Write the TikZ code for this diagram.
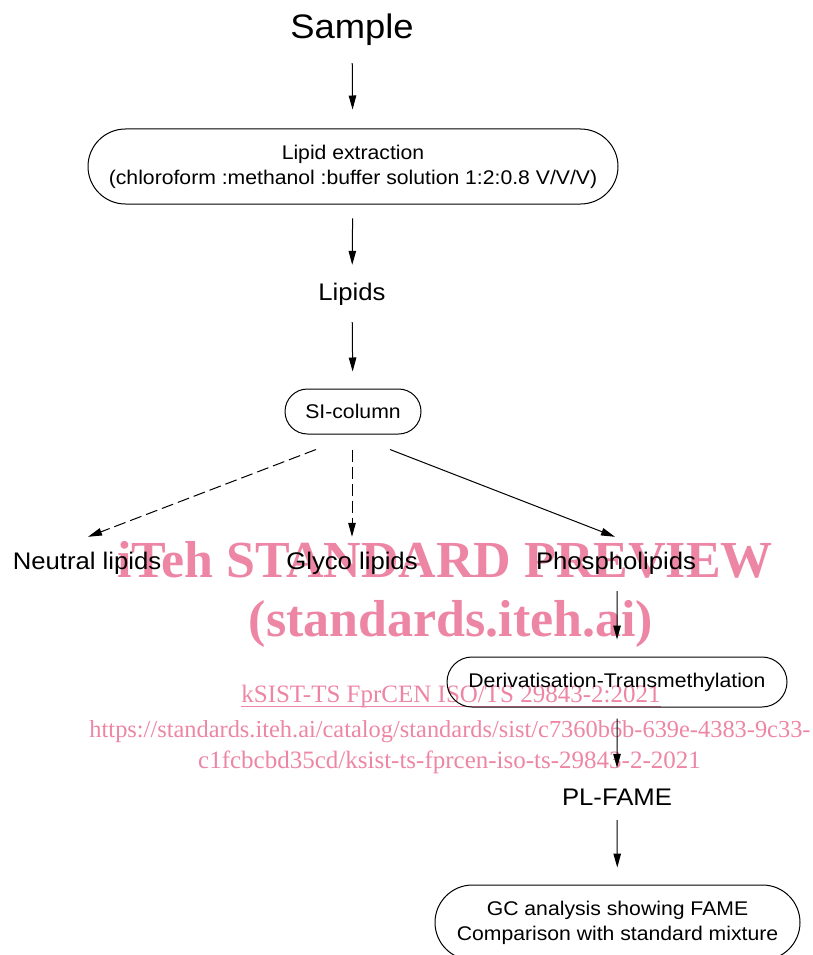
\documentclass[tikz,border=0pt]{standalone}
\usepackage{fontspec}
\setmainfont{Liberation Sans}
\newfontfamily\dgf[FakeStretch=1.07]{Liberation Sans}
\newfontfamily\wmf{Liberation Serif}
\usetikzlibrary{arrows.meta,shapes.misc}
\definecolor{wm}{RGB}{237,134,165}
\begin{document}
\begin{tikzpicture}[x=1pt,y=-1pt,
  box/.style={draw,rounded rectangle,line width=1pt,inner sep=0pt,
    font=\dgf\fontsize{19.8}{25}\selectfont,align=center},
  lbl/.style={inner sep=0pt,minimum height=24pt,font=\dgf\fontsize{24}{26}\selectfont},
  arr/.style={-{Triangle[length=14pt,width=7.5pt]},line width=1pt},
  dsh/.style={arr,dash pattern=on 12pt off 5pt},
  wmk/.style={text=wm,inner sep=0pt,anchor=base}]
\useasboundingbox (0,0) rectangle (813,955);

% watermark (behind the diagram)
\node[wmk,font=\wmf\bfseries\fontsize{52}{56}\selectfont] (wm1) at (445,577) {iTeh STANDARD PREVIEW};
\node[wmk,font=\wmf\bfseries\fontsize{52}{56}\selectfont] (wm2) at (451,636) {(standards.iteh.ai)};
\node[wmk,font=\wmf\fontsize{25}{28}\selectfont] (wm3) at (451,702) {kSIST-TS FprCEN ISO/TS 29843-2:2021};
\draw[wm,line width=1pt] ([yshift=-4pt]wm3.base west) -- ([yshift=-4pt]wm3.base east);
\node[wmk,font=\wmf\fontsize{24.4}{28}\selectfont] (wm4) at (450,737) {https://standards.iteh.ai/catalog/standards/sist/c7360b6b-639e-4383-9c33-};
\node[wmk,font=\wmf\fontsize{25}{28}\selectfont] (wm5) at (449.5,768) {c1fcbcbd35cd/ksist-ts-fprcen-iso-ts-29843-2-2021};

\node[inner sep=0pt,minimum height=30pt,font=\dgf\fontsize{34}{36}\selectfont] (sample) at (352,30) {Sample};
\node[box,minimum width=530pt,minimum height=75pt] (lipext) at (353,166.5)
  {Lipid extraction\\(chloroform :methanol :buffer solution 1:2:0.8 V/V/V)};
\node[lbl] (lipids) at (352,294) {Lipids};
\node[box,minimum width=136pt,minimum height=45pt] (si) at (353,411.5) {SI-column};
\node[lbl] (neutral) at (87,563) {Neutral lipids};
\node[lbl] (glyco) at (352,563) {Glyco lipids};
\node[lbl] (phospho) at (616,563) {Phospholipids};
\node[box,minimum width=340pt,minimum height=50pt] (deriv) at (617,682) {Derivatisation-Transmethylation};
\node[lbl] (plfame) at (617,797) {PL-FAME};
\node[box,minimum width=365pt,minimum height=75pt] (gc) at (617.5,922.5)
  {GC analysis showing FAME\\Comparison with standard mixture};

\draw[arr,shorten <=17pt,shorten >=19pt] (sample) -- (lipext);
\draw[arr,shorten <=14pt,shorten >=17pt] (lipext) -- (lipids);
\draw[arr,shorten <=16pt,shorten >=17pt] (lipids) -- (si);
\draw[dsh,shorten <=15pt,shorten >=14pt] (si.south -| glyco) -- (glyco);
\draw[dsh] ([xshift=-37pt,yshift=-15pt]si.south) -- ([xshift=1pt,yshift=14pt]neutral.north);
\draw[arr] ([xshift=37pt,yshift=-15pt]si.south) -- ([xshift=-1pt,yshift=14pt]phospho.north);
\draw[arr,shorten <=16pt,shorten >=17pt] (phospho.south -| deriv) -- (deriv);
\draw[arr,shorten <=11pt,shorten >=17pt] (deriv) -- (plfame);
\draw[arr,shorten <=11pt,shorten >=17pt] (plfame) -- (gc);
\end{tikzpicture}
\end{document}
